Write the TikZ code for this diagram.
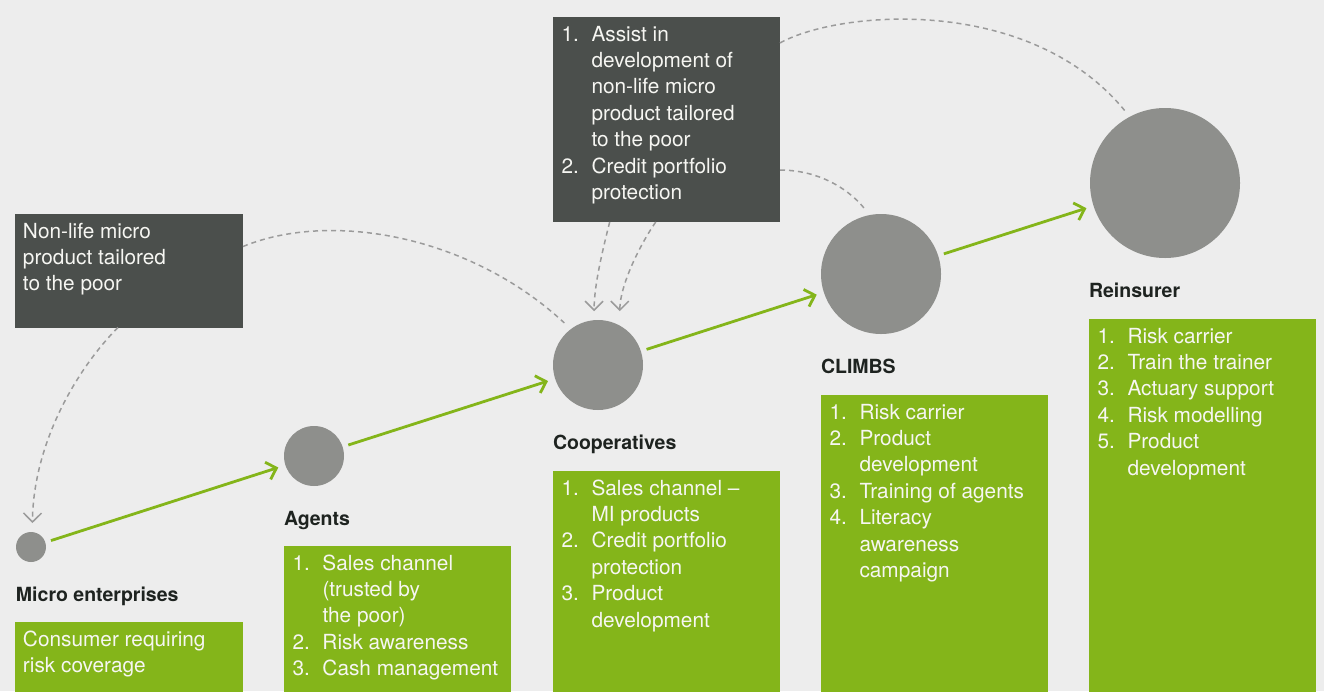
\documentclass[tikz,border=0pt]{standalone}
\usepackage{fontspec}
\setmainfont{TeX Gyre Heros}
\usetikzlibrary{arrows.meta,calc}
\definecolor{bgcol}{HTML}{EDEDED}
\definecolor{darkcol}{HTML}{4B4F4C}
\definecolor{greencol}{HTML}{84B51A}
\definecolor{dotcol}{HTML}{8E8F8C}
\definecolor{labelcol}{HTML}{1E2320}
\definecolor{dashcol}{HTML}{9B9B9B}
\definecolor{boxtextcol}{HTML}{F6F6F2}
\setlength{\tabcolsep}{0pt}
\begin{document}
\begin{tikzpicture}[x=1pt,y=-1pt,
  every node/.style={inner sep=0pt,outer sep=0pt},
  darkrect/.style={fill=darkcol,draw=none,anchor=north west},
  greenrect/.style={fill=greencol,draw=none,anchor=north west},
  dot/.style={circle,fill=dotcol,draw=none},
  lbl/.style={text=labelcol,font=\fontsize{19.5}{24}\selectfont\bfseries,anchor=base west},
  boxtxt/.style={text=boxtextcol,font=\fontsize{20.8}{26.4}\selectfont,anchor=base west},
  garrow/.style={draw=greencol,line width=2.8pt,-{Straight Barb[length=9pt,width=18pt]},shorten <=6pt,shorten >=7.5pt},
  dashline/.style={draw=dashcol,line width=1.5pt,dash pattern=on 5pt off 4pt},
  dasharrow/.style={dashline,-{Straight Barb[length=9pt,width=18pt]}}
]
\useasboundingbox (0,0) rectangle (1324,691);
\fill[bgcol] (0,0) rectangle (1324,691);

% boxes
\node[darkrect,minimum width=228pt,minimum height=113.5pt] (boxA) at (15,214) {};
\node[darkrect,minimum width=227pt,minimum height=205pt] (boxB) at (553,17) {};
\node[greenrect,minimum width=228pt,minimum height=72pt] (gmicro) at (15,622) {};
\node[greenrect,minimum width=227pt,minimum height=148pt] (gagents) at (284,546) {};
\node[greenrect,minimum width=227pt,minimum height=223pt] (gcoop) at (553,471) {};
\node[greenrect,minimum width=227pt,minimum height=299pt] (gclimbs) at (821,395) {};
\node[greenrect,minimum width=227pt,minimum height=375pt] (greins) at (1089,319) {};

% circles
\node[dot,minimum size=30pt] (micro) at (31,547) {};
\node[dot,minimum size=60pt] (agents) at (314,456) {};
\node[dot,minimum size=90pt] (coop) at (598,365) {};
\node[dot,minimum size=120pt] (climbs) at (881,274) {};
\node[dot,minimum size=150pt] (reins) at (1165,183) {};

% green arrows
\draw[garrow] (micro) -- (agents);
\draw[garrow] (agents) -- (coop);
\draw[garrow] (coop) -- (climbs);
\draw[garrow] (climbs) -- (reins);

% dashed connectors
\draw[dashline,shorten >=9pt] (boxA.12) .. controls +(87,-36) and +(-101,-94) .. (coop.127);
\draw[dasharrow,shorten >=9pt] (boxA.-101) .. controls +(-38,38) and +(1,-92) .. (micro.85);
\draw[dasharrow,shorten >=9pt] (boxB.-119) .. controls +(-7,28) and +(0,-35) .. (coop.95);
\draw[dasharrow,shorten >=14.5pt] (boxB.-96) .. controls +(-16,23) and +(0,-40) .. (coop.61);
\draw[dashline,shorten >=8pt] (boxB.-24) .. controls +(42,0) and +(-18,-23) .. (climbs.101);
\draw[dashline,shorten >=8pt] (boxB.34) .. controls +(60,-33) and +(-100,-122) .. (reins.118);

% labels
\node[lbl] (lmicro) at (16,601) {Micro enterprises};
\node[lbl] (lagents) at (284,525) {Agents};
\node[lbl] (lcoop) at (553,449.5) {Cooperatives};
\node[lbl] (lclimbs) at (821,373.5) {CLIMBS};
\node[lbl] (lreins) at (1089,297.5) {Reinsurer};

% box texts
\node[boxtxt] (tA) at ($(boxA.north west)+(8,24)$) {\begin{tabular}[t]{@{}l@{}}Non-life micro\\product tailored\\to the poor\end{tabular}};
\node[boxtxt] (tB) at ($(boxB.north west)+(8.5,24)$) {\begin{tabular}[t]{@{}p{30pt}@{}l@{}}1.&Assist in\\&development of\\&non-life micro\\&product tailored\\&to the poor\\2.&Credit portfolio\\&protection\end{tabular}};
\node[boxtxt] (tmicro) at ($(gmicro.north west)+(8,24)$) {\begin{tabular}[t]{@{}l@{}}Consumer requiring\\risk coverage\end{tabular}};
\node[boxtxt] (tagents) at ($(gagents.north west)+(8.5,24)$) {\begin{tabular}[t]{@{}p{30pt}@{}l@{}}1.&Sales channel\\&(trusted by\\&the poor)\\2.&Risk awareness\\3.&Cash management\end{tabular}};
\node[boxtxt] (tcoop) at ($(gcoop.north west)+(8.5,24)$) {\begin{tabular}[t]{@{}p{30pt}@{}l@{}}1.&Sales channel --\\&MI products\\2.&Credit portfolio\\&protection\\3.&Product\\&development\end{tabular}};
\node[boxtxt] (tclimbs) at ($(gclimbs.north west)+(8.5,24)$) {\begin{tabular}[t]{@{}p{30pt}@{}l@{}}1.&Risk carrier\\2.&Product\\&development\\3.&Training of agents\\4.&Literacy\\&awareness\\&campaign\end{tabular}};
\node[boxtxt] (treins) at ($(greins.north west)+(8.5,24)$) {\begin{tabular}[t]{@{}p{30pt}@{}l@{}}1.&Risk carrier\\2.&Train the trainer\\3.&Actuary support\\4.&Risk modelling\\5.&Product\\&development\end{tabular}};
\end{tikzpicture}
\end{document}
